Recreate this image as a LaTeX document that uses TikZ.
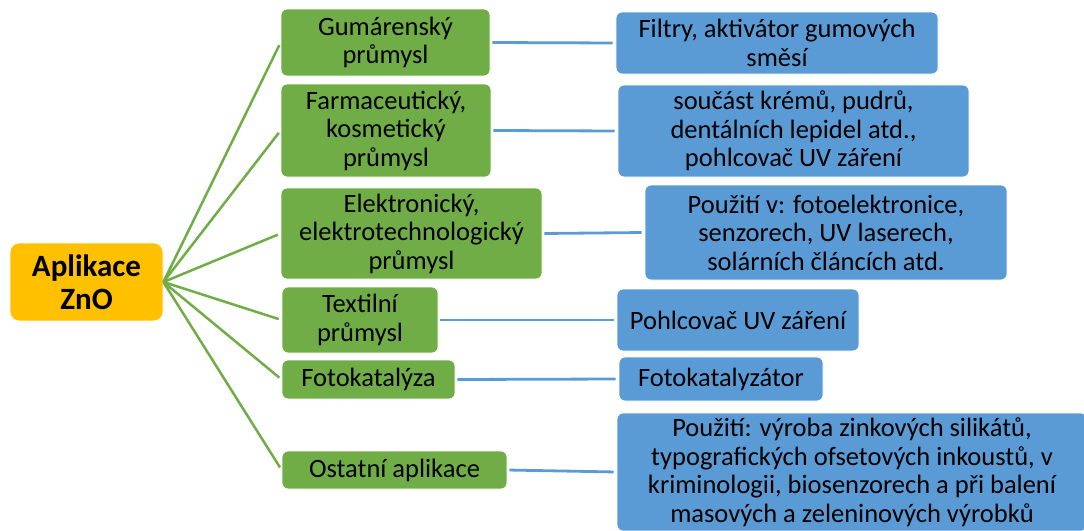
\documentclass[tikz,border=0pt]{standalone}
\usepackage{fontspec}
\setmainfont{Carlito}
\definecolor{rootfill}{HTML}{FFC000}
\definecolor{fieldfill}{HTML}{70AD47}
\definecolor{usagefill}{HTML}{5B9BD5}

\begin{document}
\begin{tikzpicture}[x=1pt, y=-1pt,
    root/.style={rectangle, rounded corners=9pt, fill=rootfill, draw=white, line width=0.8pt, inner sep=0pt, align=center, font=\fontsize{31}{33}\selectfont\bfseries},
    field/.style={rectangle, rounded corners=6pt, fill=fieldfill, draw=white, line width=0.8pt, inner sep=0pt, align=center, font=\fontsize{26.5}{28.5}\selectfont},
    usage/.style={rectangle, rounded corners=6pt, fill=usagefill, draw=white, line width=0.8pt, inner sep=0pt, align=center, font=\fontsize{26.5}{28.5}\selectfont},
    branch/.style={draw=fieldfill, line width=2.5pt, shorten >=3pt},
    link/.style={draw=usagefill, line width=2.8pt, shorten <=2pt, shorten >=3pt}
]
\useasboundingbox (0,0) rectangle (1084,530);

% Root
\node[root, minimum width=153, minimum height=78] (zno) at (86.5,282) {Aplikace\\ZnO};

% Fields of application
\node[field, minimum width=209, minimum height=67] (rubber) at (385.5,42.5) {Gumárenský\\průmysl};
\node[field, minimum width=210, minimum height=93] (pharma) at (386,130.5) {Farmaceutický,\\kosmetický\\průmysl};
\node[field, minimum width=261, minimum height=91] (electro) at (411.5,233.5) {Elektronický,\\elektrotechnologický\\průmysl};
\node[field, minimum width=156, minimum height=66] (textile) at (360,320) {Textilní\\průmysl};
\node[field, minimum width=173, minimum height=39] (photo) at (368.5,379.5) {Fotokatalýza};
\node[field, minimum width=225, minimum height=38] (other) at (394.5,470) {Ostatní aplikace};

% Uses
\node[usage, minimum width=322, minimum height=62] (filters) at (777,43) {Filtry, aktivátor gumových\\směsí};
\node[usage, minimum width=351, minimum height=92] (creams) at (793.5,131) {součást krémů, pudrů,\\dentálních lepidel atd.,\\pohlcovač UV záření};
\node[usage, minimum width=362, minimum height=95] (sensors) at (826,232.5) {Použití v: fotoelektronice,\\senzorech, UV laserech,\\solárních článcích atd.};
\node[usage, minimum width=242, minimum height=62] (absorber) at (738,320) {Pohlcovač UV záření};
\node[usage, minimum width=204, minimum height=44] (catalyst) at (721,379) {Fotokatalyzátor};
\node[usage, minimum width=470, minimum height=118] (misc) at (852,472) {Použití: výroba zinkových silikátů,\\typografických ofsetových inkoustů, v\\kriminologii, biosenzorech a při balení\\masových a zeleninových výrobků};

% Branches from root
\foreach \f in {rubber, pharma, electro, textile, photo, other}
  \draw[branch] (zno.east) -- (\f.west);

% Links to uses
\draw[link] (rubber.east) -- (filters.west);
\draw[link] (pharma.east) -- (creams.west);
\draw[link] (electro.east) -- (sensors.west);
\draw[link] (textile.east) -- (absorber.west);
\draw[link] (photo.east) -- (catalyst.west);
\draw[link] (other.east) -- (misc.west);

\end{tikzpicture}
\end{document}
